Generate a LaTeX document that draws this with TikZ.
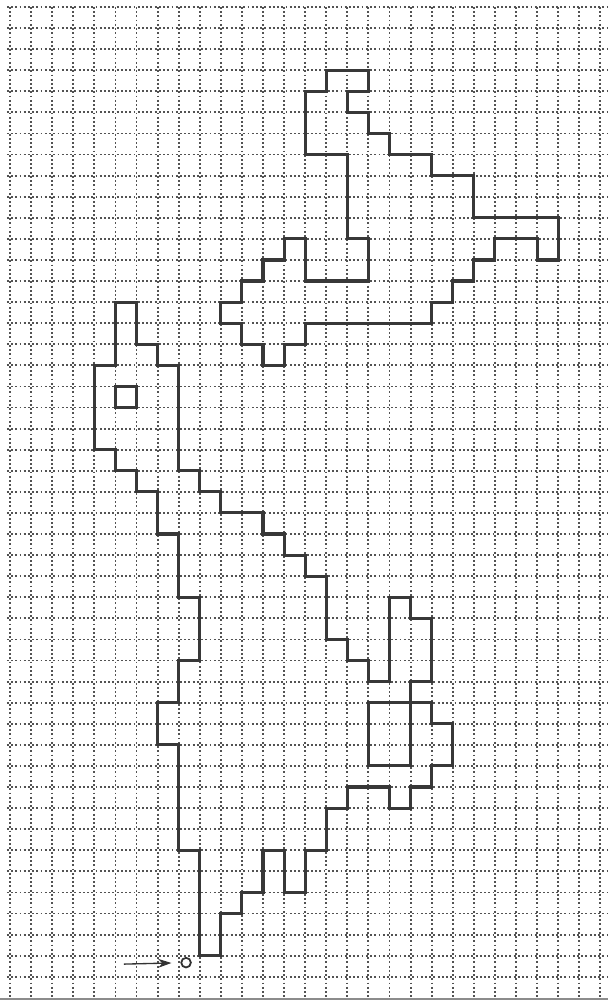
\documentclass[tikz,border=0pt]{standalone}
\usetikzlibrary{arrows.meta}

\begin{document}
\begin{tikzpicture}[
        x=0.5cm, y=-0.5cm,
        gridline/.style={
            line width=1.25pt,
            dash pattern=on 1.25pt off 1.6pt,
            draw=black!68
        },
        baseline rule/.style={
            line width=1.6pt,
            draw=black!45
        },
        outline/.style={
            line width=2.1pt,
            draw=black!78,
            line join=miter
        },
        startdot/.style={
            circle,
            draw=black!80,
            line width=1.2pt,
            minimum size=6.5pt,
            inner sep=0pt
        },
        arrow/.style={
            -{Stealth[length=9pt,width=6pt]},
            line width=0.9pt,
            draw=black!80,
            shorten >=6pt
        }
    ]

    % Page frame
    \useasboundingbox (-0.475,-0.33) rectangle (28.36,47.15);

    % Dotted grid
    \foreach \r in {0,...,46}
        \draw[gridline] (-0.15,\r) -- (28.36,\r);
    \foreach \c in {0,...,28}
        \draw[gridline] (\c,0) -- (\c,47);
    \draw[baseline rule] (-0.475,47.05) -- (28.36,47.05);

    % Upper figure
    \draw[outline] (15,3) -- (17,3) -- (17,4) -- (16,4) -- (16,5) -- (17,5)
        -- (17,6) -- (18,6) -- (18,7) -- (20,7) -- (20,8) -- (22,8)
        -- (22,10) -- (26,10) -- (26,12) -- (25,12) -- (25,11) -- (23,11)
        -- (23,12) -- (22,12) -- (22,13) -- (21,13) -- (21,14) -- (20,14)
        -- (20,15) -- (14,15) -- (14,16) -- (13,16) -- (13,17) -- (12,17)
        -- (12,16) -- (11,16) -- (11,15) -- (10,15) -- (10,14) -- (11,14)
        -- (11,13) -- (12,13) -- (12,12) -- (13,12) -- (13,11) -- (14,11)
        -- (14,13) -- (17,13) -- (17,11) -- (16,11) -- (16,7) -- (14,7)
        -- (14,4) -- (15,4) -- cycle;

    % Lower figure
    \draw[outline] (5,14) -- (6,14) -- (6,16) -- (7,16) -- (7,17) -- (8,17)
        -- (8,22) -- (9,22) -- (9,23) -- (10,23) -- (10,24) -- (12,24)
        -- (12,25) -- (13,25) -- (13,26) -- (14,26) -- (14,27) -- (15,27)
        -- (15,30) -- (16,30) -- (16,31) -- (17,31) -- (17,32) -- (18,32)
        -- (18,28) -- (19,28) -- (19,29) -- (20,29) -- (20,32) -- (19,32)
        -- (19,33) -- (20,33) -- (20,34) -- (21,34) -- (21,36) -- (20,36)
        -- (20,37) -- (19,37) -- (19,38) -- (18,38) -- (18,37) -- (16,37)
        -- (16,38) -- (15,38) -- (15,40) -- (14,40) -- (14,42) -- (13,42)
        -- (13,40) -- (12,40) -- (12,42) -- (11,42) -- (11,43) -- (10,43)
        -- (10,45) -- (9,45) -- (9,40) -- (8,40) -- (8,35) -- (7,35)
        -- (7,33) -- (8,33) -- (8,31) -- (9,31) -- (9,28) -- (8,28)
        -- (8,25) -- (7,25) -- (7,23) -- (6,23) -- (6,22) -- (5,22)
        -- (5,21) -- (4,21) -- (4,17) -- (5,17) -- cycle;

    % Eye and inner block
    \draw[outline] (5,18) rectangle (6,19);
    \draw[outline] (17,33) rectangle (19,36);

    % Start point
    \node[startdot] (start) at (8.35,45.33) {};
    \coordinate (lead) at (5.4,45.4);
    \draw[arrow] (lead) -- (start);

\end{tikzpicture}
\end{document}
